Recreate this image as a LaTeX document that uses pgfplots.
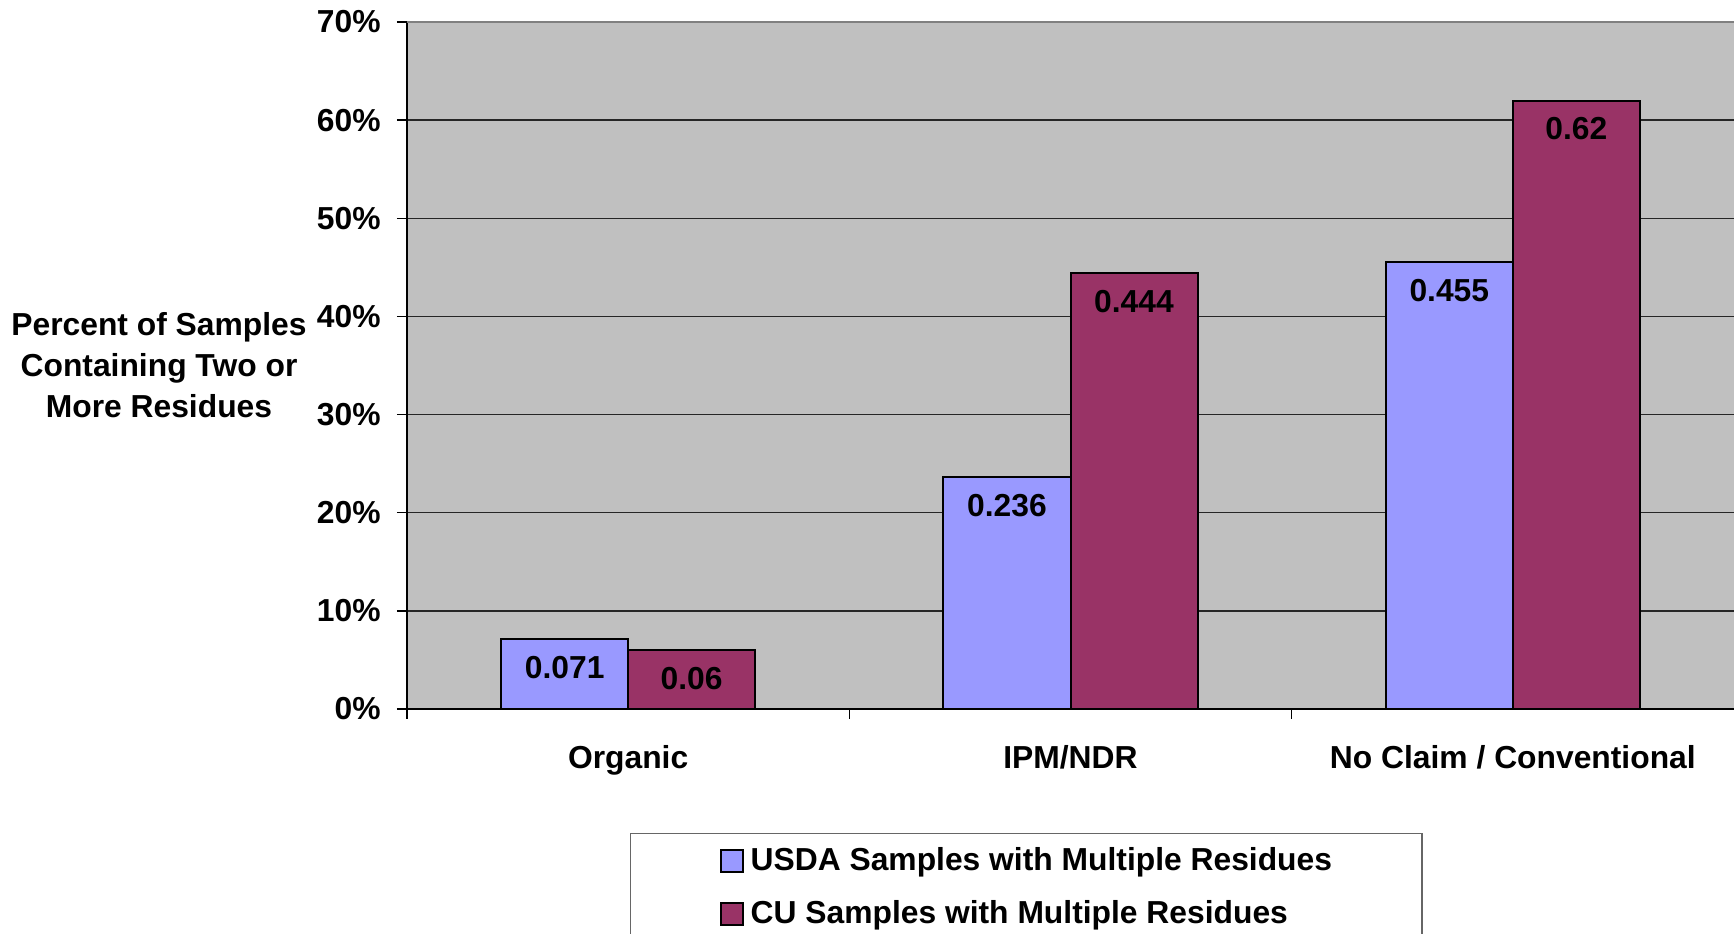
\documentclass[border=0pt]{standalone}
\usepackage{pgfplots}
\pgfplotsset{compat=1.18}
\usepackage{fontspec}
\setmainfont{Liberation Sans}
\definecolor{usda}{HTML}{9999FF}
\definecolor{cu}{HTML}{993366}
\definecolor{bgc}{HTML}{C0C0C0}
\newcommand{\chartfont}{\fontsize{15.9}{20.5}\selectfont\bfseries}
\begin{document}
\begin{tikzpicture}
\begin{axis}[
  name=ax,
  scale only axis,
  width=663.5pt, height=343.5pt,
  xmin=0.5, xmax=3.5,
  ymin=0, ymax=0.7,
  ybar=0pt,
  bar width=63.5pt,
  axis background/.style={fill=bgc},
  separate axis lines,
  axis x line*=bottom,
  axis y line*=left,
  axis line style={black, line width=0.8pt, -},
  ytick={0,0.1,0.2,0.3,0.4,0.5,0.6,0.7},
  yticklabels={0\%,10\%,20\%,30\%,40\%,50\%,60\%,70\%},
  ymajorgrids,
  major grid style={black!85, line width=0.7pt},
  tick align=outside,
  major tick length=5pt,
  tick style={black, line width=0.7pt},
  xtick={1,2,3},
  xticklabels={Organic, IPM/NDR, No Claim / Conventional},
  xtick style={draw=none},
  extra x ticks={0.5,1.5,2.5},
  extra x tick labels={},
  extra x tick style={xtick style={draw=black}, grid=none},
  ticklabel style={font=\chartfont},
  yticklabel style={inner sep=0pt, xshift=-8pt},
  xticklabel style={inner sep=0pt, yshift=-13pt},
  ylabel={Percent of Samples\\Containing Two or\\More Residues},
  ylabel style={font=\chartfont, align=center, rotate=-90, anchor=center, at={(rel axis cs:0,0.5)}, xshift=-124pt},
  point meta=explicit symbolic,
  nodes near coords,
  nodes near coords align={below},
  every node near coord/.append style={font=\chartfont, inner sep=0pt, yshift=-8pt, black},
  legend style={
    at={(rel axis cs:0,0)}, anchor=north west, xshift=111.5pt, yshift=-62pt,
    draw=black!60, line width=0.7pt, fill=white,
    font=\chartfont, inner xsep=43pt, inner ysep=5pt,
    row sep=9.5pt,
    legend cell align=left,
  },
  legend image code/.code={\path[draw=none, fill=none] (0pt,0pt) -- (15pt,0pt); \draw[#1, draw=black, line width=1pt] (2pt,-5.5pt) rectangle (13pt,5.5pt);},
]
\addplot[fill=usda, draw=black, line width=1pt] coordinates {(1,0.071)[0.071] (2,0.236)[0.236] (3,0.455)[0.455]};
\addplot[fill=cu, draw=black, line width=1pt] coordinates {(1,0.06)[0.06] (2,0.444)[0.444] (3,0.62)[0.62]};
\legend{USDA Samples with Multiple Residues, CU Samples with Multiple Residues}
\addlegendimage{empty legend}
\addlegendentry{}
\draw[black!50, line width=1pt] (rel axis cs:0,1) -- (rel axis cs:1,1);
\end{axis}
\pgfresetboundingbox
\path[use as bounding box] ([xshift=-203.5pt,yshift=-112.5pt]ax.south west) rectangle ([yshift=11pt]ax.north east);
\end{tikzpicture}
\end{document}
